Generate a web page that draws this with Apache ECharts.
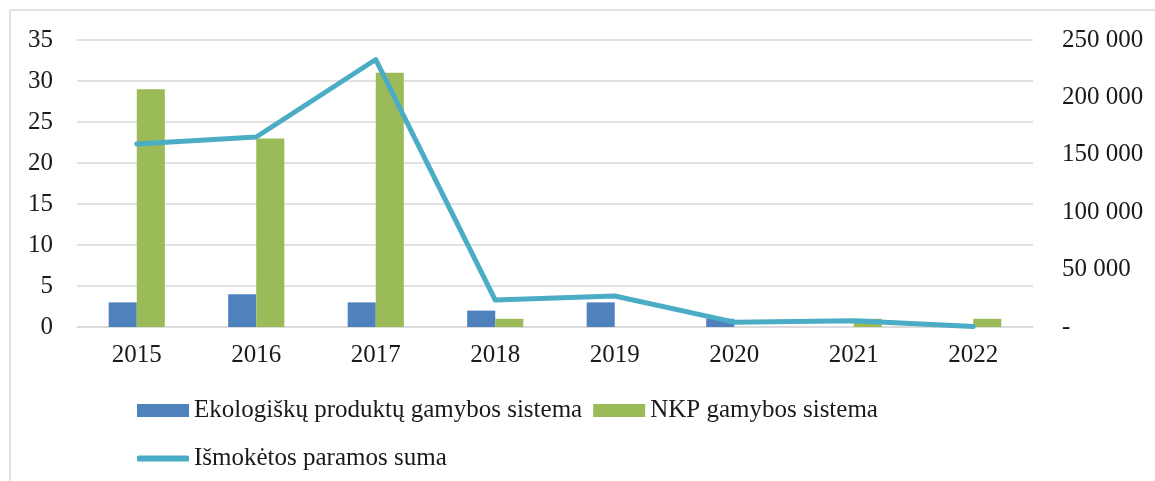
<!DOCTYPE html>
<html>
<head>
<meta charset="utf-8">
<script src="https://cdn.jsdelivr.net/npm/echarts@6/dist/echarts.min.js"></script>
<style>
html,body{margin:0;padding:0;background:#fff;}
#c{width:1155px;height:481px;}
</style>
</head>
<body>
<div id="c"></div>
<script>
const categories = ['2015','2016','2017','2018','2019','2020','2021','2022'];
const ekoValues = [3, 4, 3, 2, 3, 1, 0, 0];
const nkpValues = [29, 23, 31, 1, 0, 0, 1, 1];
const paramaValues = [159500, 165500, 233000, 23500, 27000, 4200, 5500, 400];
const seriesNames = ['Ekologiškų produktų gamybos sistema', 'NKP gamybos sistema', 'Išmokėtos paramos suma'];

const FONT = 'Liberation Serif';
const TXT = '#1a1a1a';
const GRID = '#d9d9d9';
const FS = 25;

function fmtRight(v){
  if (v === 0) return '-';
  return String(v).replace(/\B(?=(\d{3})+(?!\d))/g, ' ');
}

const chart = echarts.init(document.getElementById('c'), null, {renderer:'canvas'});
chart.setOption({
  animation: false,
  backgroundColor: '#fff',
  textStyle: {fontFamily: FONT, color: TXT},
  graphic: [
    {type:'line', shape:{x1:10, y1:10, x2:1155, y2:10}, style:{stroke:GRID, lineWidth:1.5}},
    {type:'line', shape:{x1:10, y1:10, x2:10, y2:481}, style:{stroke:GRID, lineWidth:1.5}}
  ],
  grid: {left: 77, right: 122, top: 40, bottom: 154, containLabel: false},
  legend: [
    {
      left: 137, top: 398, padding: 0,
      itemWidth: 52, itemHeight: 13, itemGap: 11,
      icon: 'rect',
      textStyle: {fontFamily: FONT, fontSize: FS, color: TXT},
      data: [seriesNames[0], seriesNames[1]]
    },
    {
      left: 137, top: 446, padding: 0,
      itemWidth: 52, itemHeight: 6,
      icon: 'roundRect',
      textStyle: {fontFamily: FONT, fontSize: FS, color: TXT},
      data: [seriesNames[2]]
    }
  ],
  xAxis: {
    type: 'category',
    data: categories,
    axisLine: {lineStyle: {color: GRID, width: 1.5}},
    axisTick: {show: false},
    axisLabel: {fontFamily: FONT, fontSize: FS, color: TXT, margin: 16}
  },
  yAxis: [
    {
      type: 'value', min: 0, max: 35, interval: 5,
      axisLine: {show: false}, axisTick: {show: false},
      splitLine: {lineStyle: {color: GRID, width: 1.5}},
      axisLabel: {fontFamily: FONT, fontSize: FS, color: TXT, margin: 24}
    },
    {
      type: 'value', min: 0, max: 250000, interval: 50000,
      axisLine: {show: false}, axisTick: {show: false},
      splitLine: {show: false},
      axisLabel: {fontFamily: FONT, fontSize: FS, color: TXT, margin: 29, formatter: fmtRight}
    }
  ],
  series: [
    {
      name: seriesNames[0], type: 'bar', data: ekoValues,
      itemStyle: {color: '#4f81bd'},
      barGap: '0%', barCategoryGap: '53%'
    },
    {
      name: seriesNames[1], type: 'bar', data: nkpValues,
      itemStyle: {color: '#9bbb59'},
      barGap: '0%', barCategoryGap: '53%'
    },
    {
      name: seriesNames[2], type: 'line', yAxisIndex: 1, data: paramaValues,
      symbol: 'none',
      lineStyle: {color: '#4bacc6', width: 5, cap: 'round', join: 'round'},
      itemStyle: {color: '#4bacc6'},
      z: 5
    }
  ]
});
</script>
</body>
</html>
